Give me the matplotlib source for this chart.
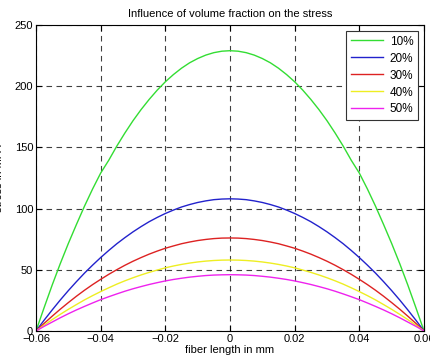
import numpy as np
import matplotlib.pyplot as plt

plt.rcParams['font.family'] = ['Liberation Sans', 'DejaVu Sans']

# fibre position (mm), sampled every 0.0025 mm
x = np.linspace(-0.06, 0.06, 49)

# stress (MPa) for each volume fraction
s10 = [0, 19, 37.5, 55, 71.5, 87, 102, 116, 129, 139.5, 151.1, 161.8, 171.8, 180.9, 189.2, 196.8,
       203.6, 209.5, 214.7, 219.1, 222.6, 225.4, 227.4, 228.6, 229,
       228.6, 227.4, 225.4, 222.6, 219.1, 214.7, 209.5, 203.6, 196.8, 189.2, 180.9, 171.8, 161.8,
       151.1, 139.5, 129, 116, 102, 87, 71.5, 55, 37.5, 19, 0]
s20 = [0, 8.8, 17.2, 25.3, 33, 40.3, 47.3, 53.8, 60, 65.8, 71.3, 76.3, 81, 85.3, 89.3, 92.8,
       96, 98.8, 101.3, 103.3, 105, 106.3, 107.3, 107.8, 108,
       107.8, 107.3, 106.3, 105, 103.3, 101.3, 98.8, 96, 92.8, 89.3, 85.3, 81, 76.3,
       71.3, 65.8, 60, 53.8, 47.3, 40.3, 33, 25.3, 17.2, 8.8, 0]
s30 = [0, 6.2, 12.1, 17.8, 23.2, 28.4, 33.3, 37.9, 42.2, 46.3, 50.1, 53.7, 57, 60, 62.8, 65.3,
       67.6, 69.5, 71.3, 72.7, 73.9, 74.8, 75.5, 75.9, 76,
       75.9, 75.5, 74.8, 73.9, 72.7, 71.3, 69.5, 67.6, 65.3, 62.8, 60, 57, 53.7,
       50.1, 46.3, 42.2, 37.9, 33.3, 28.4, 23.2, 17.8, 12.1, 6.2, 0]
s40 = [0, 4.7, 9.3, 13.6, 17.7, 21.6, 25.4, 28.9, 32.2, 35.3, 38.3, 41, 43.5, 45.8, 47.9, 49.8,
       51.6, 53.1, 54.4, 55.5, 56.4, 57.1, 57.6, 57.9, 58,
       57.9, 57.6, 57.1, 56.4, 55.5, 54.4, 53.1, 51.6, 49.8, 47.9, 45.8, 43.5, 41,
       38.3, 35.3, 32.2, 28.9, 25.4, 21.6, 17.7, 13.6, 9.3, 4.7, 0]
s50 = [0, 3.8, 7.3, 10.8, 14.1, 17.2, 20.1, 22.9, 25.6, 28, 30.3, 32.5, 34.5, 36.3, 38, 39.5,
       40.9, 42.1, 43.1, 44, 44.7, 45.3, 45.7, 45.9, 46,
       45.9, 45.7, 45.3, 44.7, 44, 43.1, 42.1, 40.9, 39.5, 38, 36.3, 34.5, 32.5,
       30.3, 28, 25.6, 22.9, 20.1, 17.2, 14.1, 10.8, 7.3, 3.8, 0]

labels = ['10%', '20%', '30%', '40%', '50%']
colors = ['#33dd33', '#2222cc', '#dd2222', '#eeee22', '#ee22ee']

fig = plt.figure(figsize=(4.3, 3.58), dpi=100)
ax = fig.add_axes([36 / 430, 27 / 358, 388 / 430, 306 / 358])

for ys, lab, c in zip([s10, s20, s30, s40, s50], labels, colors):
    ax.plot(x, ys, color=c, lw=1.0, label=lab)

ax.set_xlim(-0.06, 0.06)
ax.set_ylim(0, 250)
ax.set_xticks([-0.06, -0.04, -0.02, 0, 0.02, 0.04, 0.06])
ax.set_xticklabels(['\u22120.06', '\u22120.04', '\u22120.02', '0', '0.02', '0.04', '0.06'])
ax.set_yticks([0, 50, 100, 150, 200, 250])
ax.tick_params(direction='in', top=True, right=True, labelsize=8, length=4, pad=2)
ax.grid(True, color='black', linestyle=(0, (5, 4)), lw=0.8, alpha=0.75)

for sp in ax.spines.values():
    sp.set_linewidth(0.8)

ax.set_title('Influence of volume fraction on the stress', fontsize=8, pad=6)
ax.set_xlabel('fiber length in mm', fontsize=8, labelpad=1)
ax.set_ylabel('stress in MPA', fontsize=8, labelpad=8)

leg = ax.legend(loc='upper right', fontsize=8.5, fancybox=False, edgecolor='#333333',
                framealpha=1, handlelength=2.7, borderaxespad=0.5, labelspacing=0.42,
                borderpad=0.4, handletextpad=0.6)
leg.get_frame().set_linewidth(0.8)

fig.savefig('out.png', dpi=100)
